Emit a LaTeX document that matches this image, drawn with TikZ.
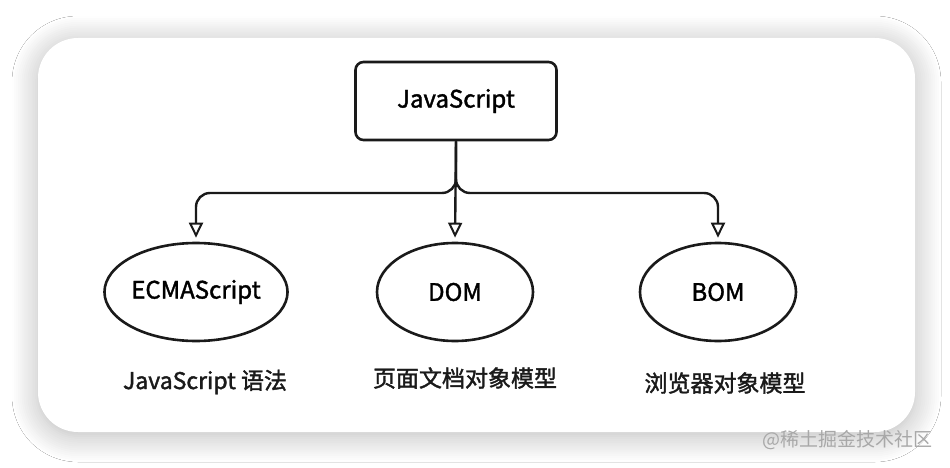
\documentclass[tikz,border=0pt]{standalone}
\usepackage{fontspec}
\setmainfont{Noto Sans CJK SC}
\newfontfamily\inkfont{Noto Sans CJK SC}[FakeBold=1.6]
\usepackage{tikz}
\usetikzlibrary{arrows.meta,positioning,shapes.geometric,shadows.blur}
\definecolor{inkblack}{HTML}{1A1A1A}
\definecolor{markgray}{HTML}{A8A8A8}
\tikzset{
  sketch/.style={draw=inkblack,line width=2.6pt},
  rootbox/.style={sketch,rounded corners=8pt,minimum width=201pt,minimum height=78pt,
    font=\inkfont\fontsize{24}{28}\selectfont},
  partball/.style={sketch,ellipse,minimum width=156pt,minimum height=98pt,inner sep=0pt,
    font=\inkfont\fontsize{24}{28}\selectfont},
  caption/.style={font=\inkfont\fontsize{23}{28}\selectfont,text=inkblack},
  feed/.style={draw=inkblack,line width=2.4pt,rounded corners=14pt,
    -{Triangle[open,length=15pt,width=14pt,line width=2pt]},shorten >=4pt}
}
\begin{document}
\begin{tikzpicture}[x=1pt,y=-1pt]
\useasboundingbox (0,0) rectangle (950,468);
\fill[white] (0,0) rectangle (950,468);
% card
\fill[white,rounded corners=40pt,blur shadow={shadow xshift=0pt,shadow yshift=-4pt,
  shadow blur radius=26pt,shadow blur steps=14,shadow opacity=28}] (38,38) rectangle (915,432);

% nodes
\node[rootbox] (js) at (456,101) {JavaScript};
\node[partball] (ecma) at (196,292) {ECMAScript};
\node[partball] (dom) at (455,292) {DOM};
\node[partball] (bom) at (718,292) {BOM};

\node[caption] (ecmatxt) at (205,382) {JavaScript 语法};
\node[caption] (domtxt) at (465,378) {页面文档对象模型};
\node[caption] (bomtxt) at (725,383) {浏览器对象模型};

% connectors
\coordinate (fork) at (456,193);
\draw[feed] (js.south) -- (fork) -| (ecma.north);
\draw[feed] (js.south) -- (fork) -| (bom.north);
\draw[feed] (js.south) -- (dom.north);

\node[text=markgray,font=\fontsize{19}{22}\selectfont,anchor=east] (mark) at (936,440) {@稀土掘金技术社区};
\end{tikzpicture}
\end{document}
